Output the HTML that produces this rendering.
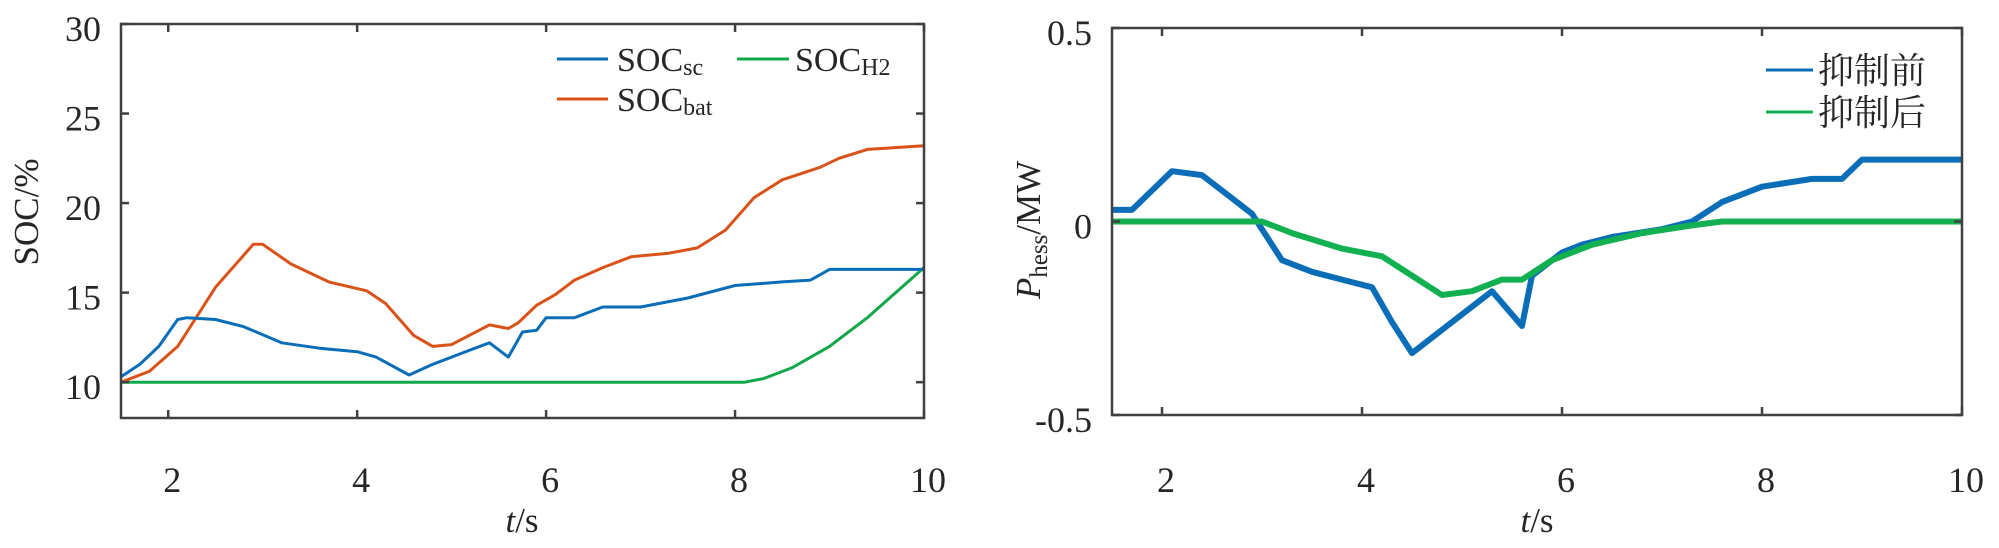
<!DOCTYPE html>
<html><head><meta charset="utf-8"><style>
body{margin:0;background:#fff;}
svg text{font-family:"Liberation Serif","Noto Serif CJK SC",serif;fill:#262626;}
</style></head><body>
<svg id="c" width="1999" height="543" xmlns="http://www.w3.org/2000/svg"></svg>
<script>
const leftXTicks=[2,4,6,8,10];
const leftYTicks=[10,15,20,25,30];
const leftYTickLabels=["10","15","20","25","30"];
const socScT=[1.5,1.7,1.9,2.1,2.2,2.5,2.8,3.2,3.6,4.0,4.2,4.55,4.8,5.2,5.4,5.6,5.75,5.9,6.0,6.3,6.6,7.0,7.5,8.0,8.5,8.8,9.0,10];
const socScV=[10.3,11,12,13.5,13.6,13.5,13.1,12.2,11.9,11.7,11.4,10.4,11,11.8,12.2,11.4,12.8,12.9,13.6,13.6,14.2,14.2,14.7,15.4,15.6,15.7,16.3,16.3];
const socBatT=[1.5,1.8,2.1,2.5,2.9,3.0,3.3,3.7,4.1,4.3,4.6,4.8,5.0,5.4,5.6,5.7,5.9,6.1,6.3,6.6,6.9,7.3,7.6,7.9,8.2,8.5,8.9,9.1,9.4,10];
const socBatV=[10,10.6,12,15.3,17.7,17.7,16.6,15.6,15.1,14.4,12.6,12,12.1,13.2,13,13.3,14.3,14.9,15.7,16.4,17,17.2,17.5,18.5,20.3,21.3,22,22.5,23,23.2];
const socH2T=[1.5,8.1,8.3,8.6,9.0,9.4,9.7,10];
const socH2V=[10,10,10.2,10.8,12,13.6,15,16.4];
const rightYTicks=[-0.5,0,0.5];
const rightYTickLabels=["-0.5","0","0.5"];
const beforeT=[1.5,1.7,1.9,2.1,2.4,2.7,2.9,3.0,3.2,3.5,3.8,4.1,4.3,4.5,4.7,5.0,5.3,5.5,5.6,5.7,6.0,6.2,6.5,7.0,7.3,7.6,8.0,8.5,8.8,9.0,10];
const beforeV=[0.03,0.03,0.08,0.13,0.12,0.06,0.02,-0.02,-0.1,-0.13,-0.15,-0.17,-0.26,-0.34,-0.3,-0.24,-0.18,-0.24,-0.27,-0.14,-0.08,-0.06,-0.04,-0.02,0,0.05,0.09,0.11,0.11,0.16,0.16];
const afterT=[1.5,3.0,3.3,3.8,4.2,4.5,4.8,5.1,5.4,5.6,5.9,6.3,6.8,7.3,7.6,10];
const afterV=[0,0,-0.03,-0.07,-0.09,-0.14,-0.19,-0.18,-0.15,-0.15,-0.1,-0.06,-0.03,-0.01,0,0];

const svg=document.getElementById('c');
const NS='http://www.w3.org/2000/svg';
function mk(tag,attrs,parent){const e=document.createElementNS(NS,tag);for(const k in attrs)e.setAttribute(k,attrs[k]);(parent||svg).appendChild(e);return e;}
function axis(x0,x1,y0,y1,xmin,xmax,ymin,ymax){return{x:v=>x0+(v-xmin)/(xmax-xmin)*(x1-x0),y:v=>y1-(v-ymin)/(ymax-ymin)*(y1-y0),x0,x1,y0,y1};}
function line(ax,ts,vs,color,w,name){
 const d=ts.map((t,i)=>(i?'L':'M')+ax.x(t).toFixed(1)+' '+ax.y(vs[i]).toFixed(1)).join(' ');
 const p=mk('path',{d,fill:'none',stroke:color,'stroke-width':w,'stroke-linejoin':'round'});
 
 
}
function frame(ax,xt,yt,ytl,name){
 const g=mk('g',{});
 
 
 mk('rect',{x:ax.x0,y:ax.y0,width:ax.x1-ax.x0,height:ax.y1-ax.y0,fill:'none',stroke:'#404040','stroke-width':2.5},g);
 xt.forEach(v=>{const X=ax.x(v);
  mk('line',{x1:X,x2:X,y1:ax.y1,y2:ax.y1-8,stroke:'#404040','stroke-width':2.5},g);
  mk('line',{x1:X,x2:X,y1:ax.y0,y2:ax.y0+8,stroke:'#404040','stroke-width':2.5},g);
  const t=mk('text',{x:X+4,y:492,'font-size':36,'text-anchor':'middle'},g);t.textContent=String(v);
  
  });
 yt.forEach((v,i)=>{const Y=ax.y(v);
  mk('line',{x1:ax.x0,x2:ax.x0+8,y1:Y,y2:Y,stroke:'#404040','stroke-width':2.5},g);
  mk('line',{x1:ax.x1,x2:ax.x1-8,y1:Y,y2:Y,stroke:'#404040','stroke-width':2.5},g);
  const t=mk('text',{x:ax.x0-20,y:Y+17,'font-size':36,'text-anchor':'end'},g);t.textContent=ytl[i];
  
  });
}
const L=axis(121,924,24,418,1.5,10,8,30);
line(L,socH2T,socH2V,'#12A84A',3,'soc-h2-line');
line(L,socBatT,socBatV,'#D95319',3,'soc-bat-line');
line(L,socScT,socScV,'#0A6DB8',3,'soc-sc-line');
frame(L,leftXTicks,leftYTicks,leftYTickLabels,'left-axes');
const R=axis(1112,1962,28,415,1.5,10,-0.5,0.5);
line(R,beforeT,beforeV,'#0A6DB8',6,'before-suppression-line');
line(R,afterT,afterV,'#12B050',6,'after-suppression-line');
frame(R,leftXTicks,rightYTicks,rightYTickLabels,'right-axes');
</script>
<svg width="1999" height="543" style="position:absolute;left:0;top:0" xmlns="http://www.w3.org/2000/svg">
<style>text{font-family:"Liberation Serif","Noto Serif CJK SC",serif;fill:#1a1a1a;}</style>
<text x="522" y="532" font-size="35" text-anchor="middle"><tspan font-style="italic">t</tspan>/s</text>
<text x="1537" y="532" font-size="35" text-anchor="middle"><tspan font-style="italic">t</tspan>/s</text>
<text transform="translate(38,212) rotate(-90)" font-size="35" text-anchor="middle">SOC/%</text>
<text transform="translate(1040,230) rotate(-90)" font-size="35" text-anchor="middle"><tspan font-style="italic">P</tspan><tspan font-size="25" dy="7">hess</tspan><tspan dy="-7">/MW</tspan></text>
<g>
<line x1="557" x2="608" y1="59" y2="59" stroke="#0A6DB8" stroke-width="3"/>
<text x="617" y="71" font-size="34">SOC<tspan font-size="24" dy="4">sc</tspan></text>
<line x1="557" x2="608" y1="99" y2="99" stroke="#D95319" stroke-width="3"/>
<text x="617" y="111" font-size="34">SOC<tspan font-size="24" dy="4">bat</tspan></text>
<line x1="737" x2="789" y1="59" y2="59" stroke="#12A84A" stroke-width="3"/>
<text x="795" y="71" font-size="34">SOC<tspan font-size="24" dy="4">H2</tspan></text>
</g>
<g>
<line x1="1766" x2="1813" y1="70" y2="70" stroke="#0A6DB8" stroke-width="3"/>
<text x="1818" y="83" font-size="36">抑制前</text>
<line x1="1766" x2="1813" y1="112" y2="112" stroke="#12B050" stroke-width="3"/>
<text x="1818" y="125" font-size="36">抑制后</text>
</g>
</svg>
</body></html>
